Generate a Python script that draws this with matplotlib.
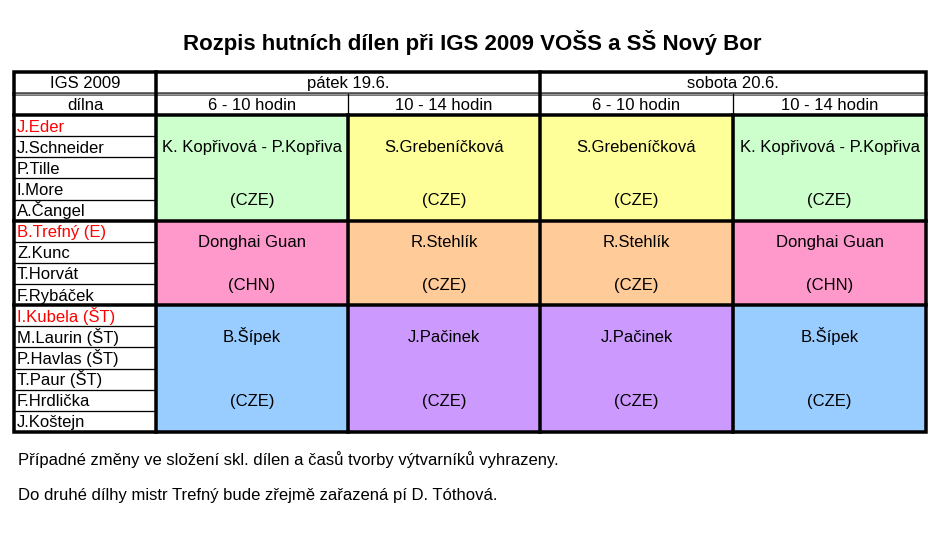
import matplotlib.pyplot as plt
from matplotlib.patches import Rectangle

plt.rcParams['font.family'] = ['Liberation Sans', 'DejaVu Sans']

# Table content
title = 'Rozpis hutních dílen při IGS 2009 VOŠS a SŠ Nový Bor'
corner_top = 'IGS 2009'
corner_bottom = 'dílna'
days = ['pátek 19.6.', 'sobota 20.6.']
slots = ['6 - 10 hodin', '10 - 14 hodin', '6 - 10 hodin', '10 - 14 hodin']

group_names = [
    ['J.Eder', 'J.Schneider', 'P.Tille', 'I.More', 'A.Čangel'],
    ['B.Trefný (E)', 'Z.Kunc', 'T.Horvát', 'F.Rybáček'],
    ['I.Kubela (ŠT)', 'M.Laurin (ŠT)', 'P.Havlas (ŠT)', 'T.Paur (ŠT)',
     'F.Hrdlička', 'J.Koštejn'],
]
artists = [
    ['K. Kopřivová - P.Kopřiva', 'S.Grebeníčková', 'S.Grebeníčková', 'K. Kopřivová - P.Kopřiva'],
    ['Donghai Guan', 'R.Stehlík', 'R.Stehlík', 'Donghai Guan'],
    ['B.Šípek', 'J.Pačinek', 'J.Pačinek', 'B.Šípek'],
]
countries = [
    ['CZE', 'CZE', 'CZE', 'CZE'],
    ['CHN', 'CZE', 'CZE', 'CHN'],
    ['CZE', 'CZE', 'CZE', 'CZE'],
]
notes = [
    'Případné změny ve složení skl. dílen a časů tvorby výtvarníků vyhrazeny.',
    'Do druhé dílhy mistr Trefný bude zřejmě zařazená pí D. Tóthová.',
]

# colour per artist (old Excel palette)
artist_colours = {
    'K. Kopřivová - P.Kopřiva': '#CCFFCC',
    'S.Grebeníčková': '#FFFF99',
    'Donghai Guan': '#FF99CC',
    'R.Stehlík': '#FFCC99',
    'B.Šípek': '#99CCFF',
    'J.Pačinek': '#CC99FF',
}

# layout in pixels
col_x = [14, 156, 348, 540, 733, 926]
head_y = [72, 94, 115]
bottom = 432
n_rows = sum(len(g) for g in group_names)
row_h = (bottom - head_y[2]) / n_rows
text_rows = [(1.5, 4.0), (1.0, 3.0), (1.5, 4.5)]  # where the two lines sit inside each block
px = 0.72  # one pixel in points
fs = 12


def put(x, y, s, size=fs, **kw):
    # y is the visual middle of the line; place on the baseline so accents don't shift it
    kw.setdefault('ha', 'center')
    ax.text(x, y + 0.37 * size, s, va='baseline', fontsize=size, **kw)


fig = plt.figure(figsize=(9.5, 5.4), dpi=100)
ax = fig.add_axes([0, 0, 1, 1])
ax.set_xlim(0, 950)
ax.set_ylim(540, 0)
ax.axis('off')

put(472, 44, title, size=16, fontweight='bold')

# header
put((col_x[0] + col_x[1]) / 2, (head_y[0] + head_y[1]) / 2 + 1, corner_top)
put((col_x[0] + col_x[1]) / 2, (head_y[1] + head_y[2]) / 2 + 1, corner_bottom)
for i, d in enumerate(days):
    put((col_x[1 + 2 * i] + col_x[3 + 2 * i]) / 2, (head_y[0] + head_y[1]) / 2 + 1, d)
for i, s in enumerate(slots):
    put((col_x[1 + i] + col_x[2 + i]) / 2, (head_y[1] + head_y[2]) / 2 + 1, s)

# body
y0 = head_y[2]
for g, names in enumerate(group_names):
    y1 = y0 + len(names) * row_h
    for c in range(4):
        ax.add_patch(Rectangle((col_x[1 + c], y0), col_x[2 + c] - col_x[1 + c], y1 - y0,
                               facecolor=artist_colours[artists[g][c]], edgecolor='none', zorder=0))
        xc = (col_x[1 + c] + col_x[2 + c]) / 2
        put(xc, y0 + text_rows[g][0] * row_h + 1, artists[g][c])
        put(xc, y0 + text_rows[g][1] * row_h + 1, '(' + countries[g][c] + ')')
    for r, name in enumerate(names):
        put(col_x[0] + 3, y0 + (r + 0.5) * row_h + 1.5, name, ha='left',
            color='#FF0000' if r == 0 else 'black')
        if r > 0:
            ax.plot([col_x[0], col_x[1]], [y0 + r * row_h] * 2, color='black', lw=1.3 * px)
    if g < len(group_names) - 1:
        ax.plot([col_x[0], col_x[-1]], [y1, y1], color='black', lw=3.5 * px)
    y0 = y1

# grid lines
ax.plot([col_x[0], col_x[-1]], [head_y[1], head_y[1]], color='#444444', lw=3.5 * px)
ax.plot([col_x[0], col_x[-1]], [head_y[1], head_y[1]], color='#9a9a9a', lw=1.2 * px)
ax.plot([col_x[0], col_x[-1]], [head_y[2], head_y[2]], color='black', lw=3.5 * px)
for i, x in enumerate(col_x[1:-1]):
    top = head_y[0] if i in (0, 2) else head_y[1]
    ax.plot([x, x], [top, bottom], color='black', lw=(3.5 if i in (0, 2) else 1.3) * px)
    if i not in (0, 2):
        ax.plot([x, x], [head_y[2], bottom], color='black', lw=3.5 * px)
ax.add_patch(Rectangle((col_x[0], head_y[0]), col_x[-1] - col_x[0], bottom - head_y[0],
                       facecolor='none', edgecolor='black', lw=3.5 * px, zorder=5))

# footnotes
for i, n in enumerate(notes):
    put(18, 461 + 35 * i, n, ha='left')

fig.savefig('out.png', dpi=100)
